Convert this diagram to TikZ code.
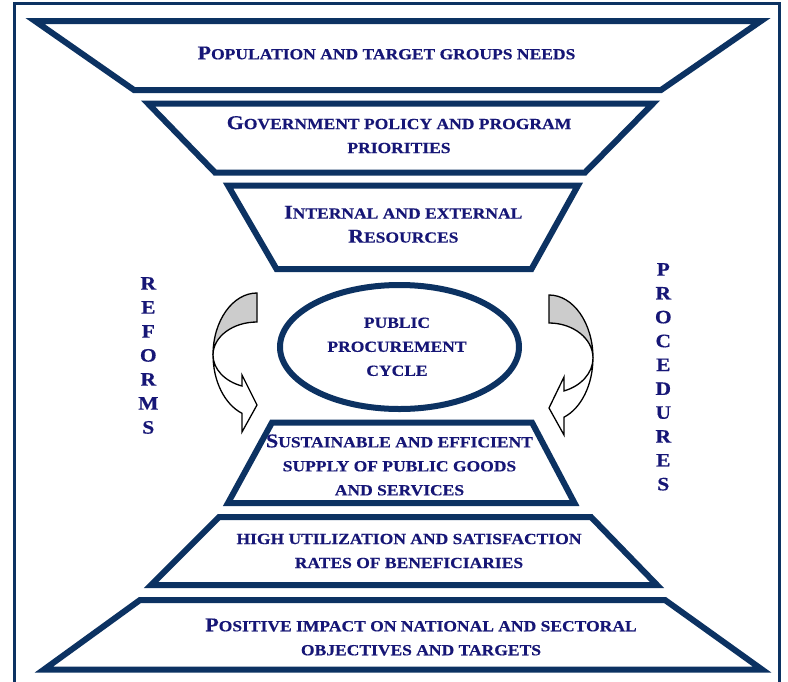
\documentclass[tikz,border=0pt]{standalone}
\usepackage{fontspec}
\setmainfont{Liberation Serif}[FakeStretch=1.13,BoldFeatures={FakeBold=0.4}]
\definecolor{fcol}{RGB}{12,50,98}
\definecolor{tcol}{RGB}{22,22,118}
\definecolor{arrgray}{RGB}{204,204,204}
\newcommand{\Ini}[1]{{\fontsize{19.5}{24}\selectfont #1}}
\begin{document}
\begin{tikzpicture}[x=1pt,y=1pt,
  band/.style={draw=fcol,line width=6pt,line join=miter,miter limit=20},
  lbl/.style={text=tcol,font=\bfseries\fontsize{15.5}{24}\selectfont,align=center,inner sep=0pt},
  vletter/.style={text=tcol,font=\bfseries\fontsize{19}{24}\selectfont,inner sep=0pt,anchor=base},
  curvearr/.style={draw=black,line width=1.3pt,line join=miter}]
\useasboundingbox (0,0) rectangle (788,-681);
\clip (0,0) rectangle (788,-681);
\fill[white] (0,0) rectangle (788,-681);
% outer frame
\draw[fcol,line width=2.6pt] (14.2,-690) -- (14.2,-3.7) -- (779.5,-3.7) -- (779.5,-690);
% funnel bands
\draw[band] (35,-21) -- (761,-21) -- (661,-90) -- (134,-90) -- cycle;
\draw[band] (148,-103.5) -- (653,-103.5) -- (585,-172.5) -- (215,-172.5) -- cycle;
\draw[band] (228,-185.5) -- (578,-185.5) -- (531.5,-269) -- (276.5,-269) -- cycle;
\draw[band] (399.5,-347) ellipse [x radius=119.5, y radius=62];
\draw[band] (272,-422.5) -- (532,-422.5) -- (574.5,-503) -- (228,-503) -- cycle;
\draw[band] (219,-517) -- (591,-517) -- (657,-585) -- (151,-585) -- cycle;
\draw[band] (140,-600) -- (665,-600) -- (762,-669.5) -- (44,-669.5) -- cycle;
% left curved arrow
\filldraw[curvearr,fill=arrgray] (257,-293) arc[start angle=90,end angle=180,x radius=44,y radius=62]
  arc[start angle=180,end angle=90,x radius=44,y radius=33] -- cycle;
\filldraw[curvearr,fill=white] (213,-355) arc[start angle=180,end angle=250,x radius=44,y radius=33]
  -- (242,-375) -- (257,-405) -- (242,-432) -- (242,-413.3)
  arc[start angle=250,end angle=180,x radius=44,y radius=62] -- cycle;
% right curved arrow
\filldraw[curvearr,fill=arrgray] (549,-295) arc[start angle=90,end angle=0,x radius=44,y radius=63]
  arc[start angle=0,end angle=90,x radius=44,y radius=35] -- cycle;
\filldraw[curvearr,fill=white] (593,-358) arc[start angle=0,end angle=-70,x radius=44,y radius=35]
  -- (564,-377) -- (549,-408) -- (564,-435) -- (564,-417.2)
  arc[start angle=-70,end angle=0,x radius=44,y radius=63] -- cycle;
% texts
\node[lbl] (t1) at (386.5,-53) {\Ini{P}OPULATION AND TARGET GROUPS NEEDS};
\node[lbl] (t2) at (399,-134.7) {\Ini{G}OVERNMENT POLICY AND PROGRAM\\PRIORITIES};
\node[lbl] (t3) at (403.3,-224.3) {\Ini{I}NTERNAL AND EXTERNAL\\\Ini{R}ESOURCES};
\node[lbl] (cyc) at (397,-346.8) {PUBLIC\\PROCUREMENT\\CYCLE};
\node[lbl] (t4) at (399.5,-465) {\Ini{S}USTAINABLE AND EFFICIENT\\SUPPLY OF PUBLIC GOODS\\AND SERVICES};
\node[lbl] (t5) at (409,-551) {HIGH UTILIZATION AND SATISFACTION\\RATES OF BENEFICIARIES};
\node[lbl] (t6) at (421,-637) {\Ini{P}OSITIVE IMPACT ON NATIONAL AND SECTORAL\\OBJECTIVES AND TARGETS};
% vertical words
\foreach \l [count=\i] in {R,E,F,O,R,M,S}
  \node[vletter] (ref\i) at (148.3,{-(283.3+(\i-1)*24)-6.3}) {\l};
\foreach \l [count=\i] in {P,R,O,C,E,D,U,R,E,S}
  \node[vletter] (proc\i) at (663.3,{-(269.3+(\i-1)*23.86)-6.3}) {\l};
\end{tikzpicture}
\end{document}
